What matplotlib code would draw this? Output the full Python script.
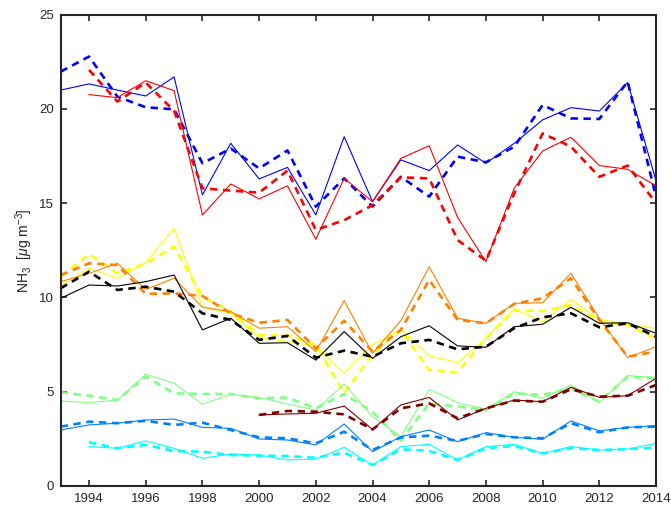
import numpy as np
import matplotlib
matplotlib.use('Agg')
import matplotlib.pyplot as plt

plt.rcParams['font.family'] = ['Liberation Sans', 'DejaVu Sans']
plt.rcParams['mathtext.fontset'] = 'custom'
plt.rcParams['mathtext.rm'] = 'Liberation Sans'
plt.rcParams['mathtext.it'] = 'Liberation Sans:italic'

# --- data ---
years = list(range(1993, 2015))
years_cyan = list(range(1994, 2015))
years_maroon = list(range(2000, 2015))

blue_solid = [21.0, 21.33, 21.0, 20.69, 21.7, 15.44, 18.18, 16.29, 16.9, 14.38, 18.53,
              15.08, 17.3, 16.73, 18.09, 17.12, 18.18, 19.42, 20.07, 19.89, 21.4, 16.2]
blue_dash = [21.98, 22.78, 20.65, 20.09, 19.98, 17.12, 17.9, 16.85, 17.8, 14.82, 16.32,
             14.82, 16.4, 15.35, 17.47, 17.17, 18.0, 20.21, 19.5, 19.47, 21.45, 15.35]

red_solid = [np.nan, 20.76, 20.6, 21.5, 20.97, 14.38, 16.02, 15.23, 15.92, 13.09, 16.32,
             15.08, 17.38, 18.05, 14.25, 11.9, 15.8, 17.77, 18.5, 17.0, 16.8, 15.92]
red_dash = [np.nan, 22.07, 20.39, 21.4, 19.9, 15.79, 15.67, 15.56, 16.73, 13.58, 14.1,
            14.9, 16.37, 16.32, 13.05, 11.95, 15.53, 18.7, 18.0, 16.4, 17.0, 15.0]

yellow_solid = [10.6, 11.55, 11.02, 11.85, 13.67, 9.51, 9.16, 7.89, 7.66, 7.43, 5.98,
                7.48, 8.31, 6.91, 6.54, 7.83, 9.39, 8.72, 9.9, 8.84, 8.58, 8.37]
yellow_dash = [11.1, 12.3, 11.28, 11.8, 12.7, 10.04, 9.25, 8.01, 8.0, 7.48, 4.92,
               7.0, 8.28, 6.15, 6.03, 7.83, 9.34, 9.28, 9.6, 8.72, 8.54, 7.83]

orange_solid = [10.84, 11.28, 11.81, 10.43, 11.02, 9.48, 9.25, 8.37, 8.45, 7.13, 9.83,
                7.04, 8.77, 11.63, 8.9, 8.63, 9.69, 9.72, 11.28, 8.9, 6.81, 7.39]
orange_dash = [11.19, 11.81, 11.72, 10.19, 10.22, 10.08, 9.16, 8.66, 8.81, 7.3, 8.77,
               7.13, 8.28, 10.93, 8.81, 8.63, 9.66, 9.96, 11.02, 8.81, 6.86, 7.13]

black_solid = [9.96, 10.66, 10.61, 10.84, 11.19, 8.28, 8.9, 7.57, 7.6, 6.68, 8.19,
               6.77, 7.92, 8.5, 7.43, 7.36, 8.45, 8.58, 9.48, 8.63, 8.66, 8.1]
black_dash = [10.49, 11.37, 10.4, 10.57, 10.31, 9.16, 8.81, 7.75, 7.96, 6.81, 7.18,
              6.86, 7.57, 7.75, 7.25, 7.39, 8.37, 8.95, 9.16, 8.42, 8.63, 7.92]

green_solid = [4.51, 4.42, 4.56, 5.93, 5.45, 4.33, 4.86, 4.7, 4.35, 4.03, 5.41,
               3.68, 2.62, 5.13, 4.42, 4.08, 5.0, 4.65, 5.36, 4.42, 5.85, 5.75]
green_dash = [4.97, 4.79, 4.56, 5.8, 4.92, 4.88, 4.88, 4.65, 4.69, 4.12, 4.88,
              3.94, 2.4, 4.38, 4.21, 4.03, 4.92, 4.83, 5.18, 4.47, 5.8, 5.71]

maroon_solid = [3.77, 3.82, 3.86, 4.24, 3.0, 4.3, 4.7, 3.5, 4.12, 4.56, 4.47, 5.24, 4.7, 4.79, 5.71]
maroon_dash = [3.77, 3.98, 3.94, 3.8, 3.0, 4.12, 4.38, 3.59, 4.12, 4.53, 4.47, 5.13, 4.74, 4.79, 5.36]

dodger_solid = [2.97, 3.24, 3.33, 3.5, 3.55, 3.11, 3.06, 2.49, 2.44, 2.18, 3.29,
                1.82, 2.62, 2.97, 2.35, 2.83, 2.58, 2.48, 3.45, 2.92, 3.11, 3.2]
dodger_dash = [3.15, 3.41, 3.33, 3.46, 3.24, 3.36, 2.97, 2.58, 2.53, 2.26, 2.88,
               1.91, 2.58, 2.67, 2.39, 2.76, 2.58, 2.53, 3.33, 2.85, 3.11, 3.15]

cyan_solid = [2.09, 2.0, 2.39, 2.0, 1.47, 1.7, 1.64, 1.38, 1.43, 2.05,
              1.11, 2.09, 2.21, 1.38, 2.09, 2.21, 1.73, 2.09, 1.91, 1.96, 2.26]
cyan_dash = [2.32, 2.0, 2.18, 1.86, 1.82, 1.64, 1.61, 1.59, 1.5, 1.77,
             1.11, 1.95, 1.86, 1.38, 2.0, 2.12, 1.73, 2.0, 1.91, 1.96, 2.03]

x_ticks = list(range(1994, 2015, 2))
y_ticks = [0, 5, 10, 15, 20, 25]

series = [
    (years, blue_solid, blue_dash, '#0000FF'),
    (years, red_solid, red_dash, '#FF0000'),
    (years, yellow_solid, yellow_dash, '#FFFF00'),
    (years, orange_solid, orange_dash, '#FF8000'),
    (years, black_solid, black_dash, '#000000'),
    (years, green_solid, green_dash, '#80FF80'),
    (years_maroon, maroon_solid, maroon_dash, '#800000'),
    (years, dodger_solid, dodger_dash, '#0080FF'),
    (years_cyan, cyan_solid, cyan_dash, '#00FFFF'),
]

fig = plt.figure(figsize=(6.71, 5.05), dpi=100)
ax = fig.add_axes([60.7 / 671, (505 - 486) / 505, (656 - 60.7) / 671, (486 - 14.7) / 505])

for xs, sol, dsh, col in series:
    ax.plot(xs, sol, color=col, linewidth=0.8, linestyle='-')
    ax.plot(xs, dsh, color=col, linewidth=1.9, linestyle='--', dashes=(2.8, 2.1))

ax.set_xlim(1993, 2014)
ax.set_ylim(0, 25)
ax.set_xticks(x_ticks)
ax.set_yticks(y_ticks)

edge = '#262626'
for s in ax.spines.values():
    s.set_linewidth(1.5)
    s.set_color(edge)
ax.tick_params(direction='in', length=4, width=1.2, colors=edge, labelsize=9.5,
               top=True, right=True, pad=5)

ax.set_ylabel(r'NH$_3$  [$\mu$g m$^{-3}$]', fontsize=10, color=edge, labelpad=3)

fig.savefig('out.png', dpi=100)
